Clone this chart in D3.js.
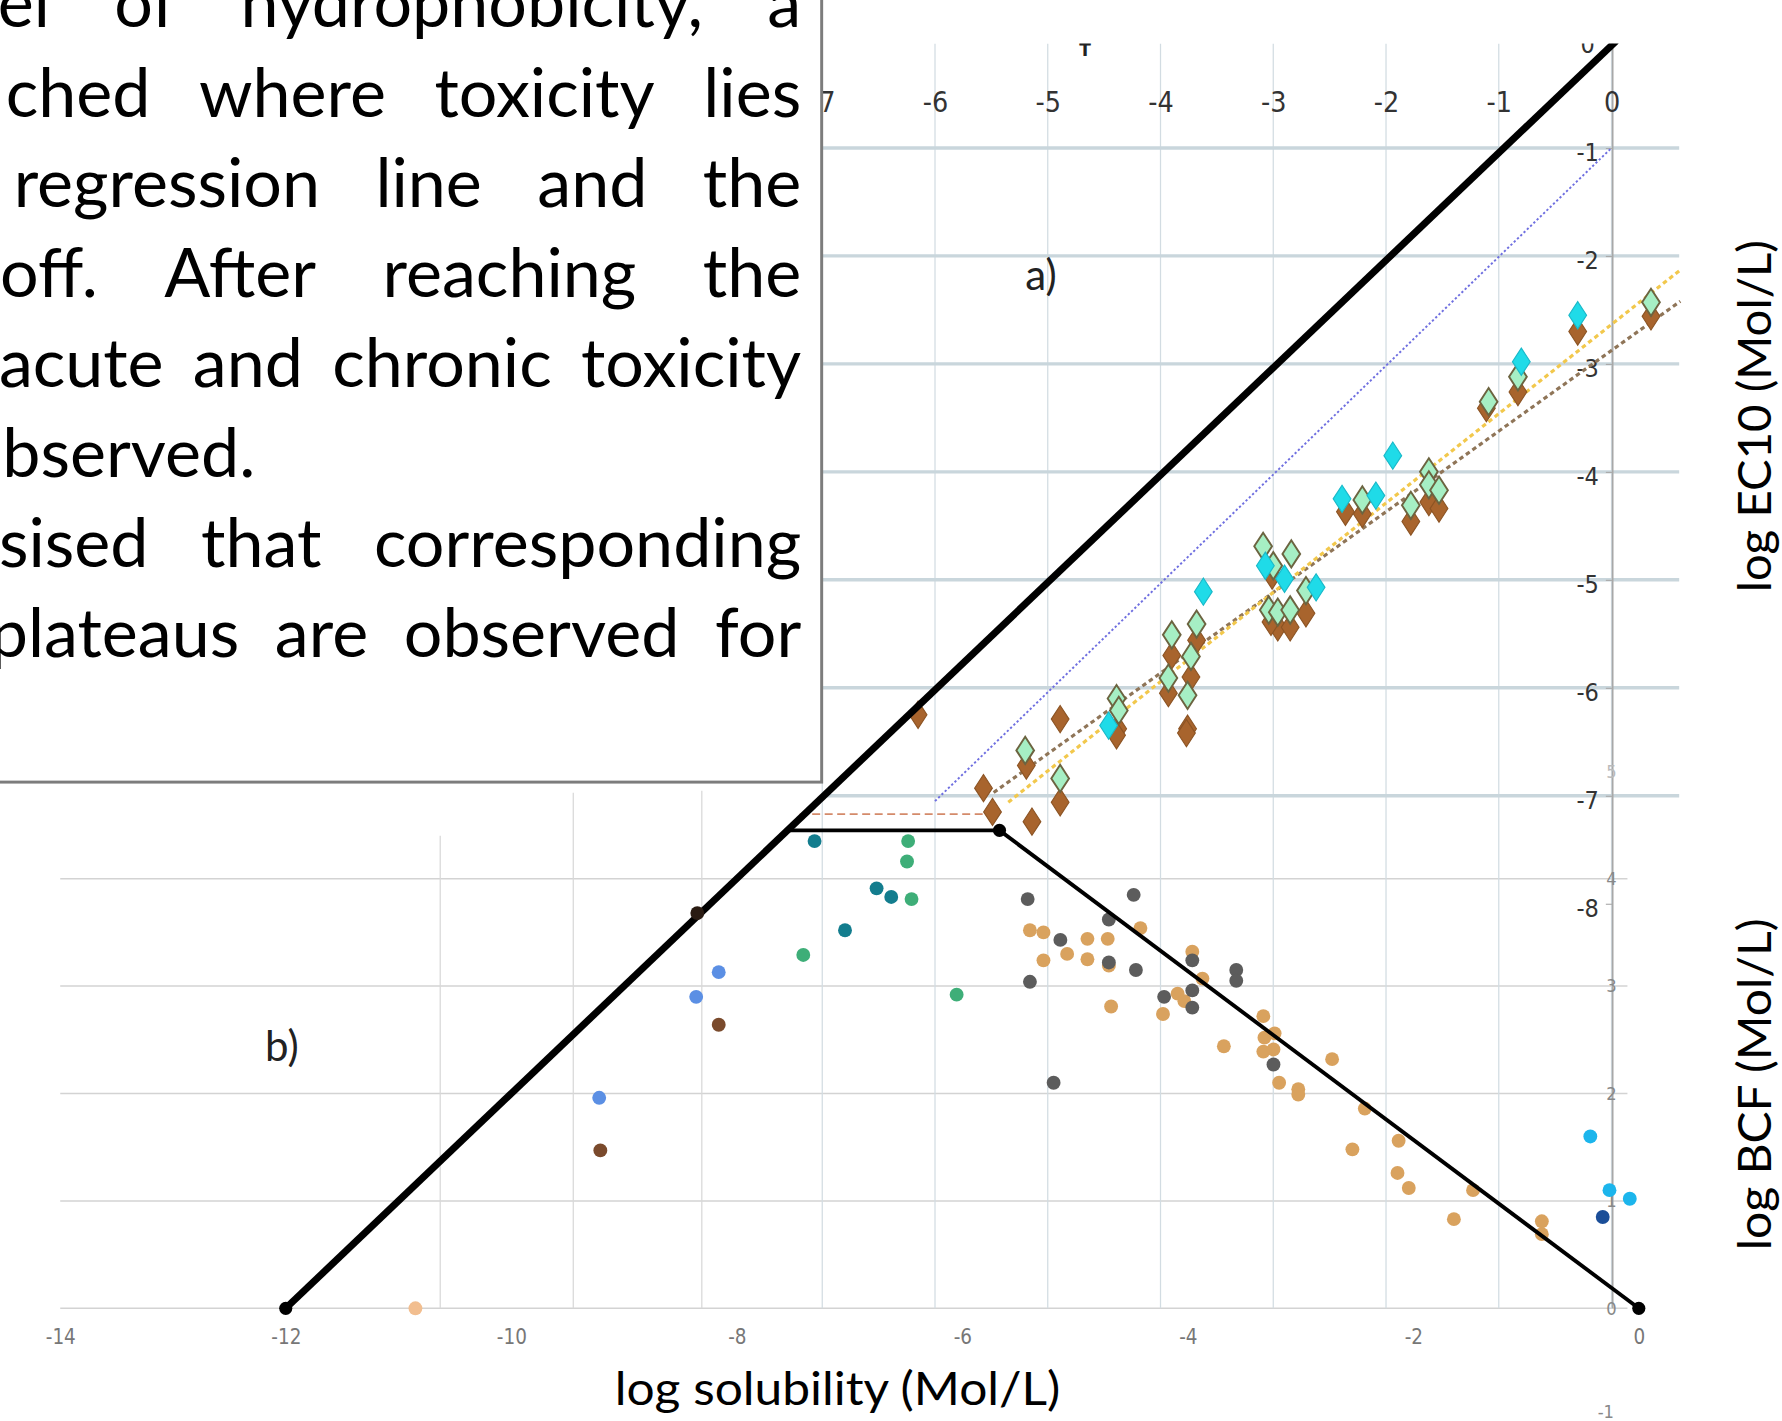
<!DOCTYPE html>
<html><head><meta charset="utf-8">
<script src="https://cdn.jsdelivr.net/npm/d3@7"></script>
<style>
html,body{margin:0;padding:0;background:#fff;overflow:hidden}
.tick-n{font-family:"Liberation Sans Narrow","DejaVu Sans Condensed","Roboto Condensed","Liberation Sans",sans-serif;font-stretch:condensed}
.cal{font-family:Lato,"Open Sans","Noto Sans",sans-serif}
</style></head><body>
<script>
// ---------------- DATA ----------------
const paragraphLines = [
  "el of hydrophobicity, a",
  "ched where toxicity lies",
  "regression line and the",
  "off. After reaching the",
  "acute and chronic toxicity",
  "bserved.",
  "sised that corresponding",
  "plateaus are observed for"
];
const xTitle = "log solubility (Mol/L)";
const yTitleA = "log EC10 (Mol/L)";
const yTitleB = "log BCF (Mol/L)";
const panelLabels = ["a)", "b)"];

// panel a: log EC10 vs log solubility
const aTicksX = [-7, -6, -5, -4, -3, -2, -1, 0];
const aTicksY = [0, -1, -2, -3, -4, -5, -6, -7, -8];
const aGridY = [-1, -2, -3, -4, -5, -6, -7];

const ec10Brown = [[-6.15,-6.25],[-5.57,-6.93],[-5.49,-7.15],[-5.14,-7.24],[-5.19,-6.72],[-4.89,-6.29],[-4.89,-7.06],
  [-4.38,-6.38],[-4.39,-6.44],[-3.93,-6.05],[-3.90,-5.70],[-3.76,-6.38],[-3.77,-6.42],[-3.73,-5.90],[-3.68,-5.56],
  [-3.01,-4.96],[-2.96,-5.44],[-2.85,-5.44],[-3.02,-5.39],[-2.71,-5.31],[-2.36,-4.37],[-2.21,-4.39],[-1.78,-4.46],
  [-1.62,-4.28],[-1.53,-4.34],[-1.11,-3.41],[-0.30,-2.70],[0.35,-2.56],[-0.83,-3.26]];
const ec10Green = [[-5.20,-6.58],[-4.89,-6.84],[-4.39,-6.10],[-4.37,-6.21],[-3.90,-5.51],[-3.93,-5.91],[-3.76,-6.07],
  [-3.73,-5.71],[-3.68,-5.41],[-3.09,-4.69],[-3.00,-4.87],[-2.84,-4.76],[-2.71,-5.10],[-3.04,-5.28],[-2.96,-5.30],
  [-2.85,-5.28],[-2.21,-4.26],[-1.78,-4.31],[-1.62,-4.00],[-1.62,-4.12],[-1.53,-4.17],[0.35,-2.43],[-0.83,-3.12],[-1.09,-3.35]];
const ec10Cyan = [[-3.62,-5.11],[-1.94,-3.85],[-2.39,-4.25],[-2.09,-4.22],[-3.07,-4.87],[-2.90,-4.99],[-2.62,-5.07],
  [-4.46,-6.35],[-0.30,-2.55],[-0.80,-2.98]];

const blueDotted   = [[-6.0,-7.05],[0,-1.0]];
const yellowDashed = [[-5.35,-7.06],[0.61,-2.13]];
const brownDashed  = [[-5.48,-6.97],[0.61,-2.42]];
const redDashed    = [[-7.2,-7.17],[-5.5,-7.17]];

// panel b: log BCF vs log solubility
const bTicksX = [-14, -12, -10, -8, -6, -4, -2, 0];
const bTicksY = [-1, 0, 1, 2, 3, 4, 5];
const bGridY = [0, 1, 2, 3, 4];
const bGridX = [[-10.63, 4.4], [-9.45, 4.8], [-8.31, 4.82]];

const bcfTeal = [[-7.31,4.35],[-6.76,3.91],[-6.63,3.83],[-7.04,3.52]];
const bcfGreen = [[-6.48,4.35],[-6.49,4.16],[-6.45,3.81],[-7.41,3.29],[-6.05,2.92]];
const bcfBlue = [[-8.16,3.13],[-8.36,2.90],[-9.22,1.96]];
const bcfBrown = [[-8.16,2.64],[-9.21,1.47]];
const bcfDark = [[-8.35,3.68]];
const bcfPeach = [[-10.85,0.0]];
const bcfGray = [[-5.42,3.81],[-4.48,3.85],[-4.70,3.62],[-5.13,3.43],[-4.70,3.22],[-4.46,3.15],[-5.40,3.04],
  [-3.96,3.24],[-3.57,3.15],[-3.57,3.05],[-4.21,2.90],[-3.96,2.96],[-3.96,2.80],[-3.24,2.27],[-5.19,2.10]];
const bcfTan = [[-5.40,3.52],[-5.28,3.50],[-5.28,3.24],[-5.07,3.30],[-4.89,3.44],[-4.89,3.25],[-4.71,3.44],
  [-4.70,3.19],[-4.42,3.54],[-4.68,2.81],[-4.22,2.74],[-4.09,2.93],[-3.96,3.32],[-3.87,3.07],[-4.03,2.86],
  [-3.68,2.44],[-3.33,2.72],[-3.32,2.52],[-3.33,2.39],[-3.23,2.56],[-3.24,2.41],[-3.19,2.10],[-3.02,2.04],
  [-3.02,1.99],[-2.72,2.32],[-2.43,1.86],[-2.54,1.48],[-2.13,1.56],[-2.14,1.26],[-2.04,1.12],[-1.47,1.10],
  [-1.64,0.83],[-0.86,0.81],[-0.86,0.69]];
const bcfLightBlue = [[-0.43,1.60],[-0.26,1.10],[-0.08,1.02]];
const bcfDarkBlue = [[-0.32,0.85]];

const cutoffLine = [[-12,0],[-0.2,11.8]];
const plateauLine = [[-7.55,4.45],[-5.67,4.45]];
const declineLine = [[-5.67,4.45],[0,0]];
const lineNodes = [[-12,0],[-5.67,4.45],[0,0]];

// ---------------- DRAW ----------------
const svg = d3.select("body").append("svg")
  .attr("width", 1782).attr("height", 1421)
  .attr("viewBox", "0 0 1568 1250");
svg.append("rect").attr("width",1568).attr("height",1250).attr("fill","#fff");

const xA = d3.scaleLinear().domain([-7, 0]).range([723.5, 1418]);
const yA = d3.scaleLinear().domain([0, -8]).range([35, 795]);
const xB = d3.scaleLinear().domain([-14, 0]).range([53, 1442]);
const yB = d3.scaleLinear().domain([0, 5]).range([1151, 678.5]);

svg.append("clipPath").attr("id","clipTop").append("rect")
  .attr("x",0).attr("y",38).attr("width",1568).attr("height",1212);
const g = svg.append("g").attr("clip-path","url(#clipTop)");

// panel b gridlines
g.append("g").selectAll("line").data(bGridY).join("line")
  .attr("x1", xB(-14)).attr("x2", 1432)
  .attr("y1", d => yB(d)).attr("y2", d => yB(d))
  .attr("stroke", "#d3d3d3").attr("stroke-width", 1.3);
g.append("g").selectAll("line").data(bGridX).join("line")
  .attr("x1", d => xB(d[0])).attr("x2", d => xB(d[0]))
  .attr("y1", d => yB(d[1])).attr("y2", yB(0))
  .attr("stroke", "#d8d8d8").attr("stroke-width", 1.1);

// panel a gridlines
g.append("g").selectAll("line").data(aTicksX).join("line")
  .attr("x1", d => xA(d)).attr("x2", d => xA(d))
  .attr("y1", 38).attr("y2", yB(0))
  .attr("stroke", "#d2dce2").attr("stroke-width", 1.1);
g.append("g").selectAll("line").data(aGridY).join("line")
  .attr("x1", xA(-7)).attr("x2", xA(0.6))
  .attr("y1", d => yA(d)).attr("y2", d => yA(d))
  .attr("stroke", "#c9d6dc").attr("stroke-width", 3);

// shared vertical axis line
g.append("line").attr("x1", 1419).attr("x2", 1419).attr("y1", 38).attr("y2", yB(0))
  .attr("stroke", "#a8a8a8").attr("stroke-width", 1.5);

// panel a top tick labels (axis)
const axTop = d3.axisTop(xA).tickValues(aTicksX).tickSize(0).tickFormat(d => String(d));
const gAxTop = g.append("g").attr("transform", "translate(0,76)").call(axTop);
gAxTop.select(".domain").remove();
gAxTop.selectAll("text").attr("class","tick-n").attr("font-size", 25).attr("fill", "#333")
  .attr("dy", "1.0em");

// panel a y tick labels
const axA = d3.axisLeft(yA).tickValues(aTicksY).tickSize(6).tickFormat(d => String(d));
const gAxA = g.append("g").attr("transform", "translate(1419,0)").call(axA);
gAxA.select(".domain").remove();
gAxA.selectAll("line").attr("stroke", "#aaa");
gAxA.selectAll("text").attr("class","tick-n").attr("font-size", 22).attr("fill", "#333")
  .attr("x", -22).attr("dy", "0.5em").attr("text-anchor","middle");

// panel b x tick labels
const axB = d3.axisBottom(xB).tickValues(bTicksX).tickSize(0).tickFormat(d => String(d));
const gAxB = g.append("g").attr("transform", `translate(0,${yB(0)+16})`).call(axB);
gAxB.select(".domain").remove();
gAxB.selectAll("text").attr("class","tick-n").attr("font-size", 18).attr("fill", "#777");

// panel b y tick labels
const axBY = d3.axisRight(yB).tickValues(bTicksY).tickSize(0).tickFormat(d => String(d));
const gAxBY = g.append("g").attr("transform", "translate(1418,0)").call(axBY);
gAxBY.select(".domain").remove();
gAxBY.selectAll("text").attr("class","tick-n").attr("font-size", 16)
  .attr("fill", d => d === 5 ? "#bbb" : "#888").attr("x", 0).attr("text-anchor","middle")
  .attr("transform", d => d === -1 ? "translate(-5,-4)" : null);

// small mark at the top
g.append("text").attr("x", xA(-4.67)).attr("y", 49).attr("text-anchor","middle")
  .attr("font-family","DejaVu Sans").attr("font-weight","bold").attr("font-size",15).attr("fill","#222").text("T");

// regression lines
const lineA = d3.line().x(d => xA(d[0])).y(d => yA(d[1]));
g.append("path").attr("d", lineA(blueDotted)).attr("fill","none")
  .attr("stroke","#6f6fe0").attr("stroke-width",1.7).attr("stroke-dasharray","2,2");
g.append("path").attr("d", lineA(redDashed)).attr("fill","none")
  .attr("stroke","#d48a6a").attr("stroke-width",1.6).attr("stroke-dasharray","7,4");
g.append("path").attr("d", lineA(brownDashed)).attr("fill","none")
  .attr("stroke","#8f7558").attr("stroke-width",2.8).attr("stroke-dasharray","4,3");
g.append("path").attr("d", lineA(yellowDashed)).attr("fill","none")
  .attr("stroke","#f2c84c").attr("stroke-width",2.8).attr("stroke-dasharray","4,3");

// diamonds
const diamond = "M0,-12 L7.8,0 L0,12 L-7.8,0 Z";
function diamonds(data, fill, stroke, sw) {
  g.append("g").selectAll("path").data(data).join("path")
    .attr("d", diamond)
    .attr("transform", d => `translate(${xA(d[0])},${yA(d[1])})`)
    .attr("fill", fill).attr("stroke", stroke).attr("stroke-width", sw);
}
diamonds(ec10Brown, "#a8642d", "#8c5424", 1);
diamonds(ec10Green, "#a6efc4", "#6c6440", 1.7);
diamonds(ec10Cyan, "#1fdbe8", "#19b9c9", 1);

// BCF dots
function dots(data, color) {
  g.append("g").selectAll("circle").data(data).join("circle")
    .attr("cx", d => xB(d[0])).attr("cy", d => yB(d[1])).attr("r", 6.1)
    .attr("fill", color);
}
dots(bcfPeach, "#f2be8f");
dots(bcfTan, "#d9a25e");
dots(bcfGray, "#5c5c5c");
dots(bcfTeal, "#137d8e");
dots(bcfGreen, "#3eae78");
dots(bcfBlue, "#5b8fe4");
dots(bcfBrown, "#7a4a2c");
dots(bcfLightBlue, "#1cb5ec");
dots(bcfDarkBlue, "#1b4e98");

// black model lines
const lineB = d3.line().x(d => xB(d[0])).y(d => yB(d[1]));
g.append("path").attr("d", lineB(cutoffLine)).attr("fill","none")
  .attr("stroke","#000").attr("stroke-width",6.2);
g.append("path").attr("d", lineB(plateauLine)).attr("fill","none")
  .attr("stroke","#000").attr("stroke-width",3.4);
g.append("path").attr("d", lineB(declineLine)).attr("fill","none")
  .attr("stroke","#000").attr("stroke-width",3.4);
g.append("g").selectAll("circle").data(lineNodes).join("circle")
  .attr("cx", d => xB(d[0])).attr("cy", d => yB(d[1])).attr("r", 5.8).attr("fill","#000");
dots(bcfDark, "#2a1b12");

// text box
svg.append("rect").attr("x",-3).attr("y",-3).attr("width",726).attr("height",691)
  .attr("fill","#fff").attr("stroke","#7c7c7c").attr("stroke-width",2.6);

const lineStartX = [-2, 5, 12, 0, -1, 2, -1, -9];
const justified = [true, true, true, true, true, false, true, true];
const rightEdge = 705;
const fs = 60;
const measure = svg.append("text").attr("class","cal").attr("font-size", fs).attr("x",-1000).attr("y",-1000);
function wlen(w){ measure.text(w); return measure.node().getComputedTextLength(); }
const tb = svg.append("g").attr("class","cal").attr("font-size", fs).attr("fill","#000");
paragraphLines.forEach((ln, i) => {
  const y = 24 + i * 79.1;
  const words = ln.split(" ");
  const widths = words.map(wlen);
  const total = d3.sum(widths);
  const gap = justified[i] && words.length > 1
    ? (rightEdge - lineStartX[i] - total) / (words.length - 1)
    : wlen(" ");
  let x = lineStartX[i];
  const t = tb.append("text").attr("y", y);
  words.forEach((w, k) => {
    t.append("tspan").attr("x", x).text(w);
    x += widths[k] + gap;
  });
});
measure.remove();

// titles
svg.append("text").attr("class","cal").attr("x", 737).attr("y", 1236)
  .attr("text-anchor","middle").attr("font-size", 40).attr("fill","#000")
  .attr("textLength", 392).attr("lengthAdjust","spacingAndGlyphs").text(xTitle);
svg.append("text").attr("class","cal").attr("transform","translate(1558,366) rotate(-90)")
  .attr("text-anchor","middle").attr("font-size", 40).attr("fill","#000")
  .attr("textLength", 310).attr("lengthAdjust","spacingAndGlyphs").text(yTitleA);
svg.append("text").attr("class","cal").attr("transform","translate(1558,954) rotate(-90)")
  .attr("text-anchor","middle").attr("font-size", 40).attr("fill","#000")
  .attr("textLength", 292).attr("lengthAdjust","spacingAndGlyphs").text(yTitleB);

svg.append("text").attr("class","cal").attr("x", 916).attr("y", 255)
  .attr("text-anchor","middle").attr("font-size", 37).attr("fill","#222").text(panelLabels[0]);
svg.append("text").attr("class","cal").attr("x", 248).attr("y", 933)
  .attr("text-anchor","middle").attr("font-size", 37).attr("fill","#222").text(panelLabels[1]);
</script>
</body></html>
